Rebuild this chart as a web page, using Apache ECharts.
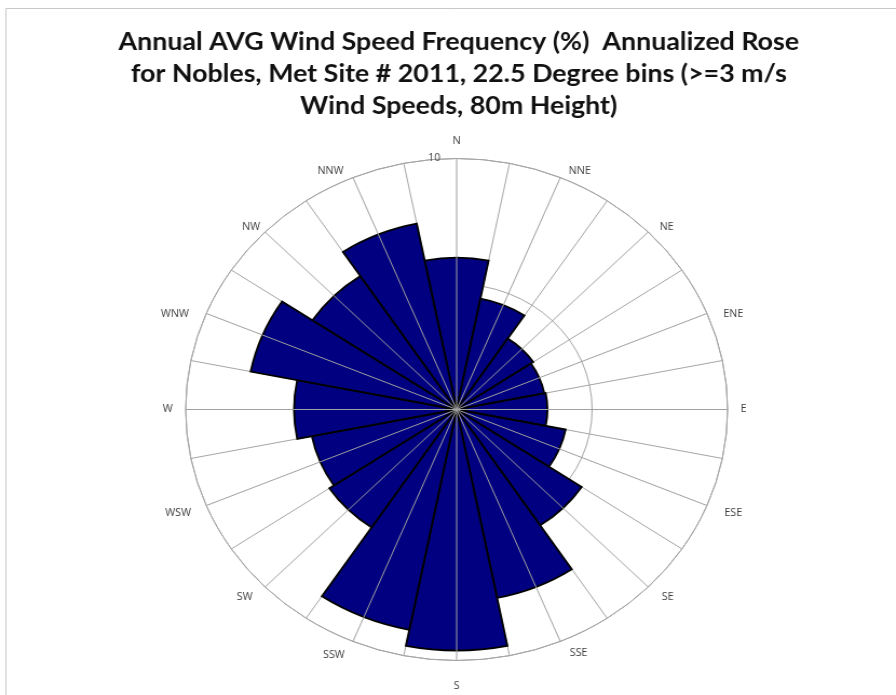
<!DOCTYPE html>
<html><head><meta charset="utf-8">
<script src="https://cdn.jsdelivr.net/npm/echarts@6/dist/echarts.min.js"></script>
<style>
html,body{margin:0;padding:0;background:#fff;overflow:hidden}
#wrap{width:896px;height:695px;overflow:hidden;position:relative}
#c{width:830px;height:695px;transform:scaleX(1.0795);transform-origin:0 0}
</style></head><body><div id="wrap"><div id="c"></div></div>
<script>
const directions = ['N','NNE','NE','ENE','E','ESE','SE','SSE','S','SSW','SW','WSW','W','WNW','NW','NNW'];
const frequency = [6.05, 4.5, 3.4, 3.3, 3.35, 4.1, 5.55, 7.65, 9.6, 8.95, 5.65, 5.45, 6.0, 7.75, 6.4, 7.55];
const radiusMin = 0, radiusMax = 10, radiusStep = 5;
const titleLines = [
  'Annual AVG Wind Speed Frequency (%)  Annualized Rose',
  'for Nobles, Met Site # 2011, 22.5 Degree bins (>=3 m/s',
  'Wind Speeds, 80m Height)'
];
// label nudges (padding) to mimic the spreadsheet label placement
const labelPadding = {
  NNE: [0,0,-10,3], NE: [0,0,-9,2], ENE: [0,0,-10,4],
  ESE: [-2,0,0,5], SE: [-3,0,0,4], SSE: [-4,0,0,4], S: [9,0,0,0],
  SSW: [-2,3,0,0], SW: [-3,3,0,0], WSW: [-2,3,0,0],
  WNW: [0,5,-10,0], NW: [0,-4,-9,0], NNW: [0,4,-10,0]
};
const labelStyle = {color: '#404040', fontSize: 10, fontFamily: 'Open Sans'};
const angleData = directions.map(d => labelPadding[d]
  ? {value: d, textStyle: Object.assign({padding: labelPadding[d]}, labelStyle)}
  : d);

const chart = echarts.init(document.getElementById('c'), null, {renderer:'canvas'});
const C = [423, 409.5], R = 251;
chart.setOption({
  animation: false,
  backgroundColor: '#ffffff',
  title: {
    text: titleLines.join('\n'),
    left: 425, top: 26, textAlign: 'center', padding: 0,
    textStyle: {fontFamily: 'Lato', fontWeight: 'bold', fontSize: 24.8, lineHeight: 32, color: '#111111'}
  },
  graphic: {elements: [{type: 'rect', silent: true, shape: {x: 5.5, y: 8.5, width: 2000, height: 2000},
    style: {fill: 'none', stroke: '#c8c8c8', lineWidth: 1}}]},
  polar: [{center: C, radius: R}, {center: C, radius: R}],
  angleAxis: [
    {polarIndex: 0, type: 'category', data: angleData, startAngle: 101.25, clockwise: true,
     axisLine: {show: true, lineStyle: {color: '#a6a6a6', width: 1}},
     axisTick: {show: false},
     axisLabel: Object.assign({show: true, margin: 12}, labelStyle),
     splitLine: {show: true, lineStyle: {color: '#a6a6a6', width: 1}},
     z: 1},
    {polarIndex: 1, type: 'category', data: directions, startAngle: 90, clockwise: true,
     axisLine: {show: false}, axisTick: {show: false}, axisLabel: {show: false},
     splitLine: {show: true, lineStyle: {color: '#a0a0a0', width: 1}},
     z: 10}
  ],
  radiusAxis: [
    {polarIndex: 0, type: 'value', min: radiusMin, max: radiusMax, interval: radiusStep,
     axisLine: {show: false}, axisTick: {show: false}, axisLabel: {show: false},
     splitLine: {show: true, lineStyle: {color: '#a6a6a6', width: 1}}, z: 1},
    {polarIndex: 1, type: 'value', min: radiusMin, max: radiusMax, interval: radiusStep,
     axisLine: {show: false}, axisTick: {show: false},
     axisLabel: Object.assign({show: true, margin: 15, verticalAlign: 'middle', padding: [6, 0, 0, 0],
                 formatter: v => v === 0 ? '' : String(v)}, labelStyle),
     splitLine: {show: false}, z: 1}
  ],
  series: [{
    type: 'bar', coordinateSystem: 'polar', polarIndex: 0, data: frequency,
    barCategoryGap: '0%', z: 5,
    itemStyle: {color: '#000080', borderColor: '#000000', borderWidth: 1.8}
  }]
});
</script></body></html>
